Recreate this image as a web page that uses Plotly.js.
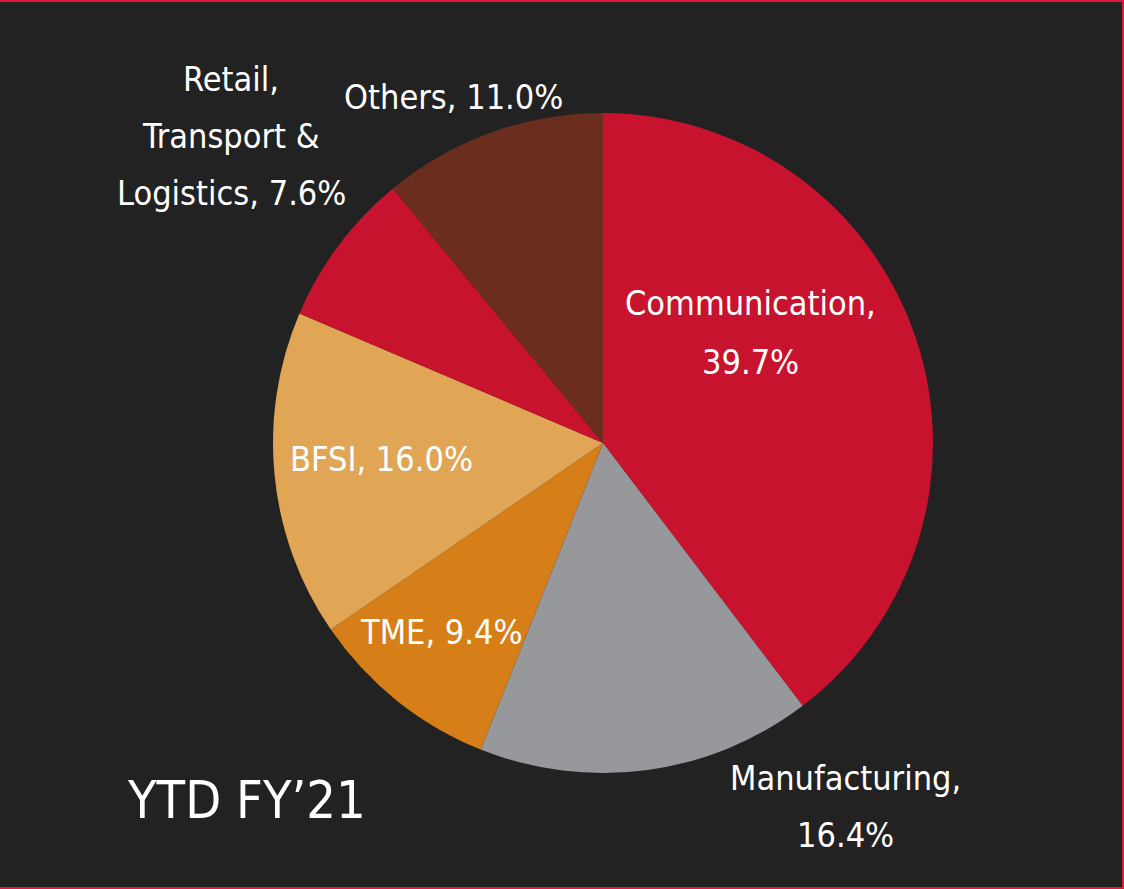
<!DOCTYPE html>
<html>
<head>
<meta charset="utf-8">
<script src="https://cdn.plot.ly/plotly-3.0.1.min.js"></script>
<style>
  html, body { margin: 0; padding: 0; background: #222222; }
  #chart { width: 1124px; height: 889px; }
</style>
</head>
<body>
<div id="chart"></div>
<script>
// Data
const segments = ["Communication", "Manufacturing", "TME", "BFSI", "Retail, Transport & Logistics", "Others"];
const shares = [39.7, 16.4, 9.4, 16.0, 7.6, 11.0];
const sliceColors = ["#c8132f", "#97989b", "#d67f19", "#e0a655", "#c8132f", "#6b2e1e"];
const periodLabel = "YTD FY\u201921";

// label lines built from the arrays
function lines(i) {
  const val = shares[i].toFixed(1) + "%";
  const name = segments[i];
  if (i === 0 || i === 1) return [name + ",", val];
  if (i === 4) return ["Retail,", "Transport &", "Logistics, " + val];
  return [name + ", " + val];
}

// label placement: center x and center y of each line (pixels)
const labelPos = [
  {x: 750, ys: [303, 362]},
  {x: 845, ys: [778, 835]},
  {x: 441, ys: [632]},
  {x: 381, ys: [459]},
  {x: 231, ys: [79, 136, 193]},
  {x: 453, ys: [97]}
];

const W = 1124, H = 889;
const FONT = "'Liberation Sans Narrow', 'DejaVu Sans Condensed', 'Arial Narrow', sans-serif";

const annotations = [];
labelPos.forEach((p, i) => {
  lines(i).forEach((t, k) => {
    annotations.push({
      xref: "paper", yref: "paper",
      x: p.x / W, y: 1 - p.ys[k] / H,
      xanchor: "center", yanchor: "middle",
      text: t, showarrow: false,
      font: {family: FONT, size: 34, color: "#ffffff"}
    });
  });
});
annotations.push({
  xref: "paper", yref: "paper",
  x: 246 / W, y: 1 - 800 / H,
  xanchor: "center", yanchor: "middle",
  text: periodLabel, showarrow: false,
  font: {family: FONT, size: 52, color: "#ffffff"}
});

const data = [{
  type: "pie",
  labels: segments,
  values: shares,
  sort: false,
  direction: "clockwise",
  rotation: 0,
  marker: {colors: sliceColors, line: {width: 0}},
  textinfo: "none",
  hoverinfo: "label+percent",
  showlegend: false,
  domain: {x: [273 / W, 933 / W], y: [1 - 773 / H, 1 - 113 / H]}
}];

const RED = "#e0173a";
const layout = {
  width: W, height: H,
  margin: {l: 0, r: 0, t: 0, b: 0},
  paper_bgcolor: "#222222",
  plot_bgcolor: "#222222",
  showlegend: false,
  annotations: annotations,
  shapes: [
    {type: "line", xref: "paper", yref: "paper", x0: 0, x1: 1, y0: 1, y1: 1, line: {color: RED, width: 4}, layer: "above"},
    {type: "line", xref: "paper", yref: "paper", x0: 1, x1: 1, y0: 0, y1: 1, line: {color: RED, width: 4}, layer: "above"},
    {type: "line", xref: "paper", yref: "paper", x0: 0, x1: 1, y0: 0, y1: 0, line: {color: RED, width: 4}, layer: "above"}
  ]
};

Plotly.newPlot("chart", data, layout, {displayModeBar: false, staticPlot: true});
</script>
</body>
</html>
